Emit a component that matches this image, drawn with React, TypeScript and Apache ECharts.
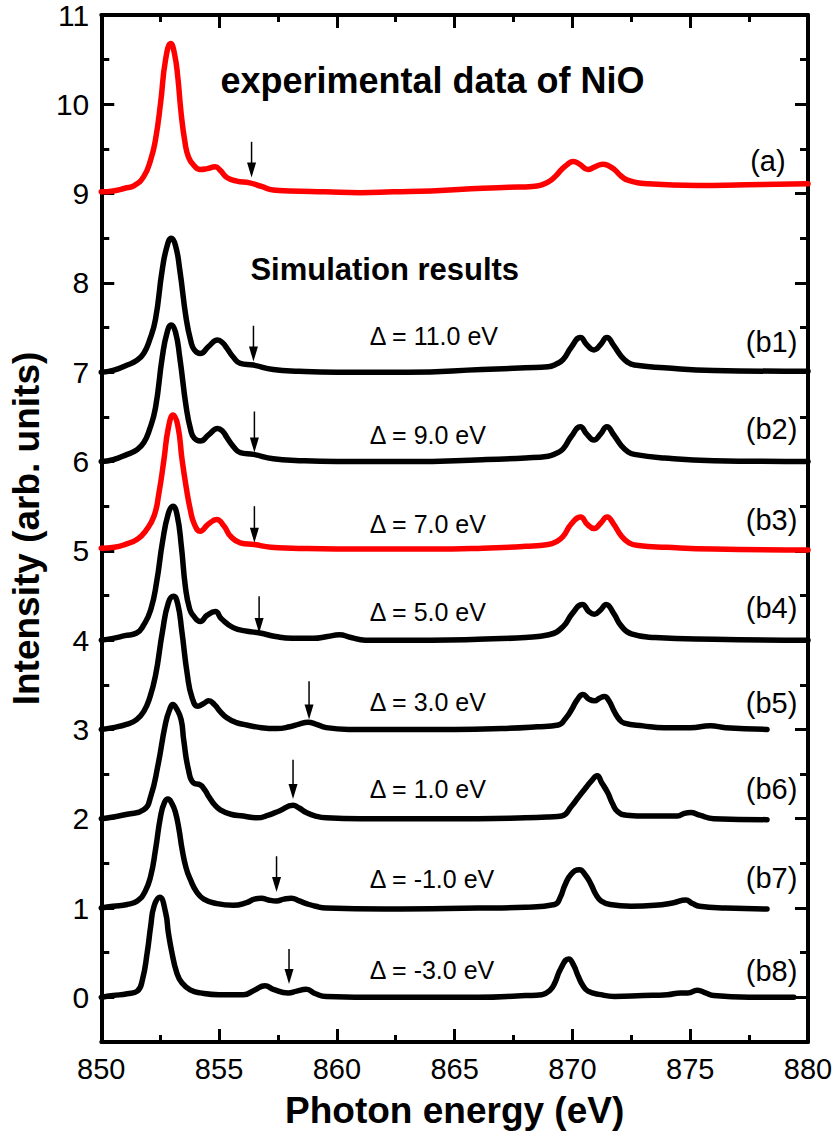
import React, { useEffect, useRef } from "react";
import * as echarts from "echarts";

const FONT = "'Liberation Sans', Arial, sans-serif";

// axis ranges and ticks
const xMin = 850;
const xMax = 880;
const yMin = -0.5;
const yMax = 11;
const yMajorTicks = [0, 1, 2, 3, 4, 5, 6, 7, 8, 9, 10, 11];
const yMinorTicks = [-0.5, 0.5, 1.5, 2.5, 3.5, 4.5, 5.5, 6.5, 7.5, 8.5, 9.5, 10.5];

// spectra: [photon energy (eV), intensity + offset]
const expA = [
  [850.0, 9.02], [850.5, 9.03], [851.0, 9.06], [851.4, 9.09], [851.8, 9.19], [852.1, 9.38], [852.3, 9.6],
  [852.52, 10.02], [852.73, 10.5], [852.95, 10.68], [853.12, 10.55], [853.25, 10.3], [853.39, 9.9],
  [853.55, 9.58], [853.7, 9.41], [853.92, 9.32], [854.2, 9.27], [854.5, 9.28], [854.84, 9.3], [855.05, 9.26],
  [855.33, 9.18], [855.75, 9.14], [856.3, 9.12], [856.8, 9.08], [857.3, 9.04], [858.0, 9.03], [859.5, 9.02],
  [861.0, 9.01], [862.4, 9.02], [864.0, 9.03], [866.2, 9.06], [867.3, 9.07], [868.3, 9.08], [868.97, 9.13],
  [869.3, 9.2], [869.54, 9.27], [869.8, 9.33], [870.03, 9.36], [870.3, 9.33], [870.66, 9.27], [870.95, 9.3],
  [871.29, 9.33], [871.55, 9.31], [871.78, 9.27], [872.05, 9.2], [872.35, 9.15], [873.2, 9.11], [875.3, 9.09],
  [877.4, 9.1], [880.0, 9.11],
];
const simB1 = [
  [850.0, 7.0], [850.5, 7.02], [851.1, 7.08], [851.5, 7.13], [851.8, 7.21], [852.05, 7.36], [852.3, 7.59],
  [852.59, 8.15], [852.8, 8.42], [852.97, 8.5], [853.15, 8.42], [853.33, 8.15], [853.61, 7.59], [853.8, 7.35],
  [853.95, 7.25], [854.2, 7.21], [854.56, 7.29], [854.94, 7.36], [855.15, 7.33], [855.33, 7.27], [855.6, 7.17],
  [855.9, 7.1], [856.46, 7.08], [857.3, 7.03], [858.4, 7.01], [860.0, 7.0], [863.0, 7.0], [866.16, 7.03],
  [868.0, 7.05], [868.97, 7.06], [869.3, 7.09], [869.6, 7.14], [869.95, 7.28], [870.34, 7.39], [870.6, 7.31],
  [870.91, 7.25], [871.2, 7.31], [871.46, 7.39], [871.75, 7.3], [872.07, 7.18], [872.35, 7.11], [872.63, 7.08],
  [873.9, 7.05], [876.0, 7.02], [880.0, 7.01],
];
const simB2 = [
  [850.0, 6.0], [850.5, 6.02], [851.1, 6.08], [851.5, 6.13], [851.8, 6.21], [852.05, 6.36], [852.3, 6.6],
  [852.59, 7.17], [852.8, 7.45], [852.97, 7.53], [853.15, 7.45], [853.33, 7.17], [853.61, 6.6], [853.8, 6.35],
  [853.95, 6.26], [854.2, 6.23], [854.56, 6.3], [854.94, 6.37], [855.15, 6.34], [855.33, 6.27], [855.6, 6.17],
  [855.9, 6.1], [856.46, 6.08], [857.3, 6.03], [858.4, 6.01], [860.0, 6.0], [863.0, 6.0], [866.16, 6.02],
  [868.0, 6.04], [868.97, 6.06], [869.3, 6.09], [869.6, 6.14], [869.95, 6.28], [870.34, 6.39], [870.6, 6.31],
  [870.91, 6.24], [871.2, 6.31], [871.46, 6.39], [871.75, 6.3], [872.07, 6.18], [872.35, 6.11], [872.63, 6.08],
  [873.9, 6.04], [876.0, 6.01], [880.0, 6.0],
];
const simB3 = [
  [850.0, 5.03], [850.55, 5.04], [851.0, 5.07], [851.53, 5.13], [851.9, 5.23], [852.24, 5.39], [852.45, 5.65],
  [852.66, 6.02], [852.85, 6.38], [853.05, 6.52], [853.25, 6.4], [853.43, 6.02], [853.6, 5.72], [853.78, 5.46],
  [853.95, 5.3], [854.2, 5.22], [854.55, 5.3], [854.9, 5.35], [855.2, 5.28], [855.5, 5.16], [855.9, 5.09],
  [856.5, 5.07], [857.2, 5.04], [858.1, 5.03], [860.0, 5.02], [864.0, 5.02], [866.2, 5.03], [868.0, 5.05],
  [868.97, 5.07], [869.3, 5.1], [869.6, 5.16], [869.95, 5.3], [870.35, 5.38], [870.62, 5.3], [870.93, 5.25],
  [871.2, 5.31], [871.47, 5.38], [871.75, 5.3], [872.07, 5.17], [872.4, 5.09], [872.8, 5.06], [874.0, 5.04],
  [876.0, 5.02], [880.0, 5.01],
];
const simB4 = [
  [850.0, 4.0], [850.5, 4.02], [851.0, 4.05], [851.5, 4.08], [851.8, 4.17], [852.1, 4.34], [852.35, 4.65],
  [852.6, 5.1], [852.85, 5.42], [853.04, 5.5], [853.22, 5.4], [853.4, 5.05], [853.57, 4.6], [853.75, 4.35],
  [853.92, 4.27], [854.2, 4.21], [854.5, 4.28], [854.84, 4.32], [855.1, 4.24], [855.6, 4.14], [856.2, 4.1],
  [856.74, 4.08], [857.4, 4.04], [858.1, 4.02], [859.0, 4.02], [859.6, 4.04], [860.1, 4.06], [860.6, 4.03],
  [861.2, 4.0], [864.0, 4.0], [866.0, 4.01], [868.0, 4.03], [869.0, 4.06], [869.6, 4.15], [870.0, 4.3],
  [870.42, 4.4], [870.7, 4.32], [870.93, 4.29], [871.2, 4.34], [871.43, 4.4], [871.75, 4.3], [872.07, 4.16],
  [872.5, 4.07], [873.5, 4.03], [876.0, 4.01], [880.0, 4.0],
];
const simB5 = [
  [850.0, 3.0], [850.5, 3.02], [851.1, 3.06], [851.5, 3.11], [851.8, 3.2], [852.05, 3.35], [852.3, 3.6],
  [852.6, 4.1], [852.85, 4.42], [853.07, 4.49], [853.25, 4.4], [853.42, 4.1], [853.65, 3.62], [853.85, 3.36],
  [854.1, 3.26], [854.35, 3.29], [854.56, 3.32], [854.8, 3.28], [855.05, 3.2], [855.33, 3.13], [855.7, 3.08],
  [856.17, 3.05], [856.8, 3.02], [857.44, 3.01], [858.0, 3.03], [858.4, 3.06], [858.78, 3.08], [859.1, 3.06],
  [859.55, 3.02], [860.5, 3.0], [865.0, 3.0], [867.0, 3.01], [868.5, 3.03], [869.4, 3.05], [869.7, 3.12],
  [869.96, 3.22], [870.2, 3.33], [870.45, 3.39], [870.7, 3.34], [870.94, 3.32], [871.15, 3.35], [871.36, 3.37],
  [871.55, 3.32], [871.78, 3.2], [872.0, 3.11], [872.2, 3.07], [873.0, 3.04], [873.9, 3.02], [875.0, 3.02],
  [875.86, 3.04], [876.5, 3.02], [878.26, 3.0],
];
const simB6 = [
  [850.0, 2.0], [850.5, 2.02], [851.1, 2.05], [851.8, 2.1], [852.1, 2.25], [852.4, 2.59], [852.73, 3.07],
  [852.9, 3.22], [853.04, 3.28], [853.2, 3.23], [853.39, 3.11], [853.5, 2.88], [853.7, 2.55], [853.92, 2.4],
  [854.2, 2.38], [854.4, 2.32], [854.56, 2.25], [854.8, 2.16], [855.05, 2.1], [855.5, 2.05], [856.03, 2.03],
  [856.6, 2.01], [857.1, 2.04], [857.58, 2.09], [858.14, 2.15], [858.4, 2.12], [858.7, 2.07], [859.1, 2.03],
  [859.55, 2.01], [861.0, 2.0], [866.0, 2.0], [868.0, 2.01], [869.0, 2.02], [869.54, 2.03], [869.96, 2.14],
  [870.25, 2.24], [870.52, 2.33], [870.8, 2.42], [871.05, 2.48], [871.25, 2.4], [871.5, 2.29], [871.7, 2.17],
  [871.92, 2.08], [872.3, 2.04], [873.19, 2.03], [874.46, 2.03], [874.75, 2.06], [875.02, 2.07], [875.4, 2.04],
  [876.0, 2.0], [878.26, 1.99],
];
const simB7 = [
  [850.0, 1.0], [850.5, 1.02], [851.1, 1.04], [851.53, 1.08], [851.85, 1.18], [852.1, 1.36], [852.3, 1.65],
  [852.52, 2.03], [852.68, 2.18], [852.83, 2.22], [853.0, 2.17], [853.15, 2.07], [853.3, 1.88], [853.43, 1.66],
  [853.6, 1.45], [853.78, 1.32], [854.05, 1.18], [854.35, 1.1], [854.9, 1.05], [855.6, 1.03], [856.17, 1.06],
  [856.5, 1.1], [856.8, 1.11], [857.1, 1.09], [857.44, 1.08], [857.75, 1.1], [858.07, 1.11], [858.4, 1.08],
  [858.7, 1.05], [859.1, 1.02], [859.55, 1.0], [862.0, 0.99], [866.0, 1.0], [868.0, 1.01], [869.25, 1.04],
  [869.5, 1.13], [869.67, 1.25], [869.95, 1.38], [870.3, 1.43], [870.55, 1.37], [870.8, 1.26], [871.0, 1.15],
  [871.22, 1.08], [871.6, 1.04], [872.49, 1.02], [873.5, 1.03], [874.3, 1.06], [874.81, 1.09], [875.1, 1.05],
  [875.4, 1.02], [876.5, 1.0], [878.26, 0.99],
];
const simB8 = [
  [850.0, 0.0], [850.5, 0.02], [851.1, 0.04], [851.53, 0.07], [851.75, 0.2], [851.95, 0.5], [852.1, 0.8],
  [852.24, 1.02], [852.48, 1.12], [852.73, 0.95], [852.85, 0.72], [853.0, 0.5], [853.2, 0.28], [853.43, 0.16],
  [853.8, 0.08], [854.2, 0.05], [855.0, 0.03], [856.03, 0.03], [856.5, 0.08], [856.95, 0.13], [857.3, 0.09],
  [857.93, 0.05], [858.3, 0.07], [858.7, 0.09], [859.1, 0.04], [859.55, 0.01], [862.0, 0.0], [866.0, 0.0],
  [868.0, 0.02], [868.7, 0.03], [869.05, 0.08], [869.25, 0.16], [869.5, 0.32], [869.84, 0.43], [870.05, 0.36],
  [870.24, 0.24], [870.45, 0.13], [870.66, 0.07], [871.2, 0.03], [871.78, 0.01], [873.0, 0.02], [874.03, 0.03],
  [874.6, 0.05], [874.9, 0.05], [875.3, 0.08], [875.65, 0.05], [876.0, 0.02], [877.5, 0.0], [879.4, 0.0],
];

const spectra = [expA, simB1, simB2, simB3, simB4, simB5, simB6, simB7, simB8];
const spectrumColors = ["#ff0000", "#000000", "#000000", "#ff0000", "#000000", "#000000", "#000000", "#000000", "#000000"];

// arrows: x position, top end, tip
const arrowX = [856.38, 856.46, 856.5, 856.5, 856.7, 858.82, 858.14, 857.44, 857.97];
const arrowTop = [9.58, 7.52, 6.56, 5.5, 4.49, 3.54, 2.66, 1.58, 0.54];
const arrowTip = [9.18, 7.12, 6.1, 5.09, 4.08, 3.11, 2.22, 1.18, 0.15];

// text annotations
const panelNames = ["(a)", "(b1)", "(b2)", "(b3)", "(b4)", "(b5)", "(b6)", "(b7)", "(b8)"];
const panelX = [879.05, 879.55, 879.55, 879.55, 879.55, 879.55, 879.55, 879.55, 879.55];
const panelY = [9.36, 7.34, 6.36, 5.34, 4.36, 3.3, 2.33, 1.34, 0.3];

const deltaNames = ["Δ = 11.0 eV", "Δ = 9.0 eV", "Δ = 7.0 eV", "Δ = 5.0 eV", "Δ = 3.0 eV", "Δ = 1.0 eV", "Δ = -1.0 eV", "Δ = -3.0 eV"];
const deltaX = 861.4;
const deltaY = [7.4, 6.3, 5.3, 4.32, 3.31, 2.33, 1.32, 0.31];

const titleNames = ["experimental data of NiO", "Simulation results"];
const titleX = [855.06, 856.33];
const titleY = [10.27, 8.15];
const titleSizes = [36, 31];

export default function App() {
  const ref = useRef<HTMLDivElement>(null);
  useEffect(() => {
    document.body.style.margin = "0";
    const chart = echarts.init(ref.current!, null, { renderer: "svg" });

    const axisLineStyle = { color: "#000", width: 4 };
    const xAxisBase = {
      type: "value",
      min: xMin,
      max: xMax,
      interval: 5,
      axisLine: { show: true, onZero: false, lineStyle: axisLineStyle },
      axisTick: { show: true, inside: true, length: 13, lineStyle: { color: "#000", width: 3 } },
      minorTick: { show: true, splitNumber: 2, length: 7, lineStyle: { color: "#000", width: 3 } },
      splitLine: { show: false },
      minorSplitLine: { show: false },
    };
    const yAxisMajor = (pos: string, labels: boolean) => ({
      type: "value",
      position: pos,
      min: yMin,
      max: yMax,
      axisLine: { show: true, onZero: false, lineStyle: axisLineStyle },
      axisTick: { show: true, inside: true, length: 13, customValues: yMajorTicks, lineStyle: { color: "#000", width: 3 } },
      axisLabel: labels
        ? { show: true, customValues: yMajorTicks, fontFamily: FONT, fontSize: 30, color: "#000", margin: 12 }
        : { show: false },
      splitLine: { show: false },
    });
    const yAxisMinor = (pos: string) => ({
      type: "value",
      position: pos,
      min: yMin,
      max: yMax,
      axisLine: { show: false },
      axisTick: { show: true, inside: true, length: 8, customValues: yMinorTicks, lineStyle: { color: "#000", width: 3 } },
      axisLabel: { show: false },
      splitLine: { show: false },
    });

    const lineSeries = spectra.map((d, i) => ({
      type: "line",
      xAxisIndex: 0,
      yAxisIndex: 0,
      data: d,
      showSymbol: false,
      symbol: "none",
      smooth: 0.5,
      lineStyle: { color: spectrumColors[i], width: 5.5, cap: "round", join: "round" },
      z: 3,
    }));

    const arrowSeries = {
      type: "custom",
      xAxisIndex: 0,
      yAxisIndex: 0,
      data: arrowX.map((x, i) => [x, arrowTop[i], arrowTip[i]]),
      encode: { x: 0, y: [1, 2] },
      z: 5,
      renderItem: (params: any, api: any) => {
        const top = api.coord([api.value(0), api.value(1)]);
        const tip = api.coord([api.value(0), api.value(2)]);
        const headLen = 15;
        const headW = 4.5;
        return {
          type: "group",
          children: [
            {
              type: "line",
              shape: { x1: top[0], y1: top[1], x2: tip[0], y2: tip[1] - headLen + 2 },
              style: { stroke: "#000", lineWidth: 1.5 },
            },
            {
              type: "polygon",
              shape: { points: [[tip[0] - headW, tip[1] - headLen], [tip[0] + headW, tip[1] - headLen], [tip[0], tip[1]]] },
              style: { fill: "#000" },
            },
          ],
        };
      },
    };

    // text annotations anchored at data coordinates
    const textSeries = (items: any[]) => ({
      type: "custom",
      xAxisIndex: 0,
      yAxisIndex: 0,
      silent: true,
      z: 6,
      data: items.map((it) => [it.x, it.y]),
      encode: { x: 0, y: 1 },
      renderItem: (params: any, api: any) => {
        const it = items[params.dataIndex];
        const p = api.coord([api.value(0), api.value(1)]);
        return {
          type: "text",
          x: p[0],
          y: p[1],
          style: {
            text: it.text,
            fill: "#000",
            fontFamily: FONT,
            fontSize: it.size,
            fontWeight: it.weight,
            align: it.align,
            verticalAlign: "middle",
          },
        };
      },
    });

    const textItems = [
      ...panelNames.map((t, i) => ({ text: t, x: panelX[i], y: panelY[i], size: 29, weight: "normal", align: "right" })),
      ...deltaNames.map((t, i) => ({ text: t, x: deltaX, y: deltaY[i], size: 25, weight: "normal", align: "left" })),
      ...titleNames.map((t, i) => ({ text: t, x: titleX[i], y: titleY[i], size: titleSizes[i], weight: "bold", align: "left" })),
    ];

    chart.setOption({
      animation: false,
      grid: { left: 97, right: 29, top: 15, bottom: 95, containLabel: false },
      xAxis: [
        {
          ...xAxisBase,
          position: "bottom",
          axisLabel: { show: true, fontFamily: FONT, fontSize: 29, color: "#000", margin: 12 },
          name: "Photon energy (eV)",
          nameLocation: "middle",
          nameGap: 50,
          nameTextStyle: { fontFamily: FONT, fontSize: 37, fontWeight: "bold", color: "#000" },
        },
        { ...xAxisBase, position: "top", axisLabel: { show: false } },
      ],
      yAxis: [
        {
          ...yAxisMajor("left", true),
          name: "Intensity (arb. units)",
          nameLocation: "middle",
          nameGap: 50,
          nameTextStyle: { fontFamily: FONT, fontSize: 37, fontWeight: "bold", color: "#000" },
        },
        yAxisMajor("right", false),
        yAxisMinor("left"),
        yAxisMinor("right"),
      ],
      series: [...lineSeries, arrowSeries, textSeries(textItems)],
    });
    return () => chart.dispose();
  }, []);
  return <div ref={ref} style={{ width: 837, height: 1137 }} />;
}
